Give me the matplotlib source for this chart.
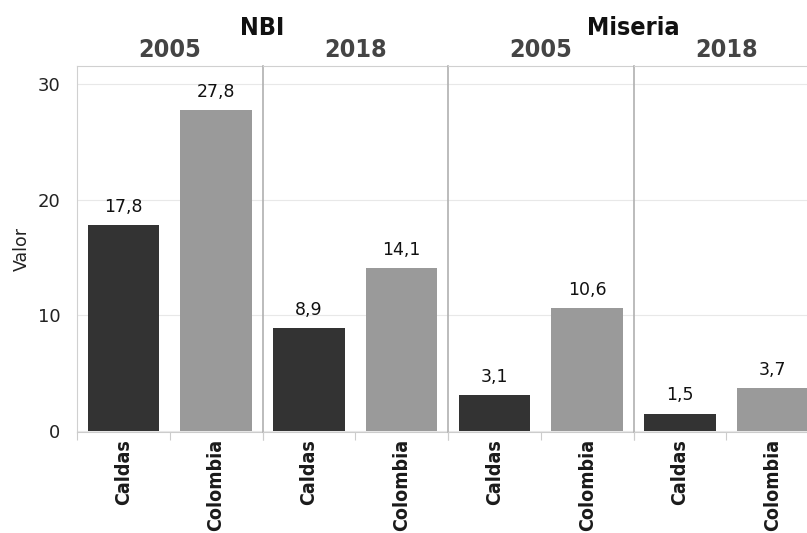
import matplotlib
matplotlib.use("Agg")
import matplotlib.pyplot as plt
from matplotlib.ticker import FixedLocator

indicadores = ["NBI", "Miseria"]
anios = ["2005", "2018"]
territorios = ["Caldas", "Colombia"]
# valores por panel: (indicador, año) -> [Caldas, Colombia]
valores = [
    [17.8, 27.8],  # NBI 2005
    [8.9, 14.1],   # NBI 2018
    [3.1, 10.6],   # Miseria 2005
    [1.5, 3.7],    # Miseria 2018
]
colores = ["#333333", "#9a9a9a"]

W, H = 807, 533
fig = plt.figure(figsize=(W / 100, H / 100), dpi=100)

left_px, top_px, bottom_px = 77, 66, 432
panel_w = 185.5
axes = []
for i in range(4):
    x0 = left_px + i * panel_w
    ax = fig.add_axes([x0 / W, (H - bottom_px) / H, panel_w / W, (bottom_px - top_px) / H],
                      sharey=axes[0] if axes else None)
    axes.append(ax)
    vals = valores[i]
    xs = range(len(territorios))
    ax.bar(xs, vals, width=0.77, color=colores, zorder=2)
    for x, v in zip(xs, vals):
        ax.text(x, v + 0.8, f"{v:.1f}".replace(".", ","), ha="center", va="bottom",
                fontsize=12.5, color="#111111")
    ax.set_xlim(-0.5, 1.5)
    ax.set_ylim(-0.1, 31.6)
    ax.set_xticks(list(xs))
    ax.set_xticklabels(territorios, rotation=90, fontweight="bold", fontsize=14,
                       fontstretch="condensed", color="#1a1a1a")
    ax.xaxis.set_minor_locator(FixedLocator([-0.5, 0.5, 1.5]))
    ax.tick_params(axis="x", which="major", length=0, pad=5)
    ax.tick_params(axis="x", which="minor", length=6, color="#cccccc", width=0.8)
    ax.set_yticks([0, 10, 20, 30])
    ax.yaxis.grid(True, color="#e8e8e8", linewidth=0.8, zorder=0)
    ax.set_axisbelow(True)
    ax.tick_params(axis="y", length=0, pad=12, labelsize=13, labelcolor="#222222")
    ax.spines["top"].set_color("#d0d0d0")
    ax.spines["bottom"].set_color("#cccccc")
    ax.spines["right"].set_visible(False)
    if i == 0:
        ax.spines["left"].set_color("#d0d0d0")
        ax.set_ylabel("Valor", fontsize=12.5, color="#222222", labelpad=5)
    else:
        ax.spines["left"].set_color("#b0b0b0")
        ax.spines["left"].set_linewidth(1.2)
        ax.tick_params(axis="y", labelleft=False)
    ax.text(0.5, 1.01, anios[i % 2], transform=ax.transAxes, ha="center", va="bottom",
            fontsize=18, fontweight="bold", fontstretch="condensed", color="#444444")

for j, nombre in enumerate(indicadores):
    xc = (left_px + (2 * j + 1) * panel_w) / W
    fig.text(xc, (H - 28) / H, nombre, ha="center", va="center", fontsize=18,
             fontweight="bold", fontstretch="condensed", color="#111111")

fig.savefig("out.png", dpi=100)
